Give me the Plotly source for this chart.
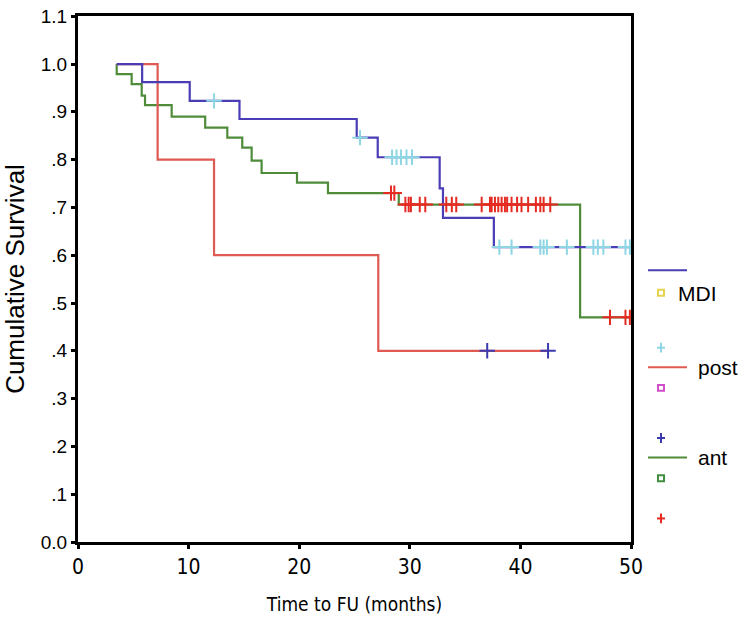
import plotly.graph_objects as go

# ---- data ----
mdi_t = [3.5, 5.8, 10.1, 14.6, 25.2, 27.1, 32.7, 33.0, 37.6, 49.9]
mdi_s = [1.0, 0.962, 0.923, 0.885, 0.846, 0.805, 0.740, 0.678, 0.617, 0.617]
mdi_cens_t = [12.3, 25.5, 28.4, 28.8, 29.2, 29.7, 30.2, 38.1, 39.2, 41.8, 42.1,
              42.4, 44.2, 46.6, 47.0, 47.5, 49.5, 49.9]

post_t = [3.5, 7.2, 12.3, 27.15, 42.6]
post_s = [1.0, 0.80, 0.60, 0.40, 0.40]
post_cens_t = [37.0, 42.5]

ant_t = [3.5, 3.5, 4.85, 5.76, 6.06, 8.47, 11.5, 13.5, 14.85, 15.7, 16.6, 19.8,
         22.6, 29.0, 45.4, 49.9]
ant_s = [1.0, 0.979, 0.958, 0.934, 0.914, 0.890, 0.867, 0.846, 0.825, 0.798,
         0.772, 0.752, 0.730, 0.706, 0.470, 0.470]
ant_cens_t = [28.3, 28.6, 29.6, 29.9, 30.1, 30.9, 31.4, 33.3, 33.8, 34.2, 36.5,
              37.25, 37.4, 37.7, 38.0, 38.3, 38.6, 38.8, 39.2, 39.7, 40.1, 40.7,
              41.4, 41.8, 42.1, 42.7, 48.1, 49.5, 49.9]

y_tickvals = [0.0, 0.1, 0.2, 0.3, 0.4, 0.5, 0.6, 0.7, 0.8, 0.9, 1.0, 1.1]
y_ticktext = ["0.0", ".1", ".2", ".3", ".4", ".5", ".6", ".7", ".8", ".9", "1.0", "1.1"]
x_tickvals = [0, 10, 20, 30, 40, 50]

groups = ["MDI", "post", "ant"]

# ---- styles ----
C_MDI = "#4a3db5"
C_POST = "#de5a52"
C_ANT = "#4f8c3a"
C_MDI_CENS = "#8ed6e4"
C_POST_CENS = "#3b3bb0"
C_ANT_CENS = "#e52b22"


def surv_at(ts, ss, t):
    v = ss[0]
    for ti, si in zip(ts, ss):
        if ti <= t:
            v = si
    return v


fig = go.Figure()

fig.add_trace(go.Scatter(x=ant_t, y=ant_s, mode="lines", line_shape="hv",
                         line=dict(color=C_ANT, width=2.2), showlegend=False))
fig.add_trace(go.Scatter(x=post_t, y=post_s, mode="lines", line_shape="hv",
                         line=dict(color=C_POST, width=2.2), showlegend=False))
fig.add_trace(go.Scatter(x=mdi_t, y=mdi_s, mode="lines", line_shape="hv",
                         line=dict(color=C_MDI, width=2.2), showlegend=False))


def cens_trace(ts, ss, ct, color, lw):
    return go.Scatter(x=ct, y=[surv_at(ts, ss, t) for t in ct], mode="markers",
                      marker=dict(symbol="cross-thin", size=11,
                                  line=dict(color=color, width=lw)),
                      showlegend=False)


fig.add_trace(cens_trace(mdi_t, mdi_s, mdi_cens_t, C_MDI_CENS, 2))
fig.add_trace(cens_trace(post_t, post_s, post_cens_t, C_POST_CENS, 2))
fig.add_trace(cens_trace(ant_t, ant_s, ant_cens_t, C_ANT_CENS, 2))

# ---- manual legend (SPSS style) ----
W, H = 742, 621
L, R, T, B = 78, 631, 6, 542
PW, PH = R - L, B - T


def px(x):
    return (x - L) / PW


def py(y):
    return (B - y) / PH


shapes = []
annotations = []


def leg_line(y, color):
    shapes.append(dict(type="line", xref="paper", yref="paper",
                       x0=px(648), x1=px(687), y0=py(y), y1=py(y),
                       line=dict(color=color, width=2)))


def leg_square(y, color):
    shapes.append(dict(type="rect", xref="paper", yref="paper",
                       x0=px(658), x1=px(664), y0=py(y + 3), y1=py(y - 3),
                       line=dict(color=color, width=2), fillcolor="white"))


def leg_plus(y, color):
    shapes.append(dict(type="line", xref="paper", yref="paper",
                       x0=px(657), x1=px(665), y0=py(y), y1=py(y),
                       line=dict(color=color, width=2)))
    shapes.append(dict(type="line", xref="paper", yref="paper",
                       x0=px(661), x1=px(661), y0=py(y - 5), y1=py(y + 5),
                       line=dict(color=color, width=2)))


def leg_text(x, y, txt):
    annotations.append(dict(text=txt, xref="paper", yref="paper", x=px(x), y=py(y),
                            xanchor="left", yanchor="middle", showarrow=False,
                            font=dict(family="Liberation Sans, Arial", size=21,
                                      color="black")))


leg_line(265, C_MDI)
leg_square(288, "#e8d44a")
leg_text(676, 289, groups[0])
leg_plus(344, C_MDI_CENS)
leg_line(364, C_POST)
leg_text(696, 364, groups[1])
leg_square(385, "#d24ec8")
leg_plus(436, C_POST_CENS)
leg_line(456, C_ANT)
leg_text(696, 456, groups[2])
leg_square(477, "#3f8f3f")
leg_plus(518, C_ANT_CENS)

fig.update_layout(
    width=W, height=H,
    margin=dict(l=L, r=W - R, t=T, b=H - B, pad=0),
    paper_bgcolor="white", plot_bgcolor="white",
    showlegend=False,
    shapes=shapes, annotations=annotations,
    font=dict(family="Liberation Sans, Arial", color="black"),
)

fig.update_xaxes(
    range=[0, 50], tickvals=x_tickvals, showgrid=False, zeroline=False,
    showline=True, linecolor="black", linewidth=3, mirror=True,
    ticks="outside", ticklen=4, tickwidth=3, tickcolor="black",
    ticklabeloverflow="allow",
    tickfont=dict(family="Liberation Sans Narrow, DejaVu Sans Condensed, Arial", size=21),
    title=dict(text="Time to FU (months)", standoff=20,
               font=dict(family="Liberation Sans Narrow, DejaVu Sans Condensed, Arial", size=19)),
)
fig.update_yaxes(
    range=[0, 1.1005], tickvals=y_tickvals, ticktext=y_ticktext, showgrid=False,
    zeroline=False, showline=True, linecolor="black", linewidth=3, mirror=True,
    ticks="outside", ticklen=4, tickwidth=3, tickcolor="black",
    ticklabeloverflow="allow",
    tickfont=dict(family="Liberation Sans, Arial", size=19),
    title=dict(text="Cumulative Survival", standoff=11,
               font=dict(family="Liberation Sans, Arial", size=26)),
)

fig.write_html("out.html",
               config={"displayModeBar": False},
               post_script="document.body.style.margin='0';document.body.style.padding='0';"
                           "document.body.style.overflow='hidden';")
